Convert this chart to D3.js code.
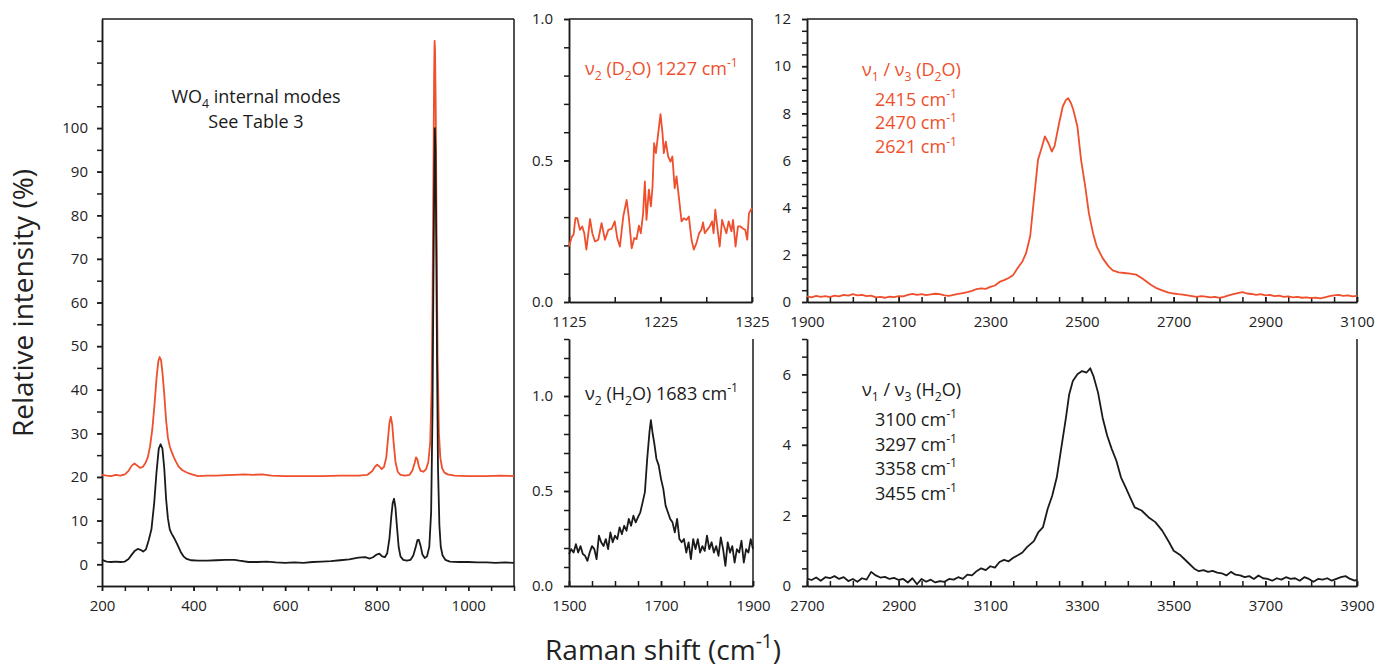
<!DOCTYPE html>
<html>
<head>
<meta charset="utf-8">
<script src="https://cdn.jsdelivr.net/npm/d3@7"></script>
<style>
  body { margin: 0; background: #fff; }
  svg { display: block; font-family: "Open Sans", sans-serif; }
</style>
</head>
<body>
<div id="chart"></div>
<script>
// ── Spectra ([Raman shift, intensity]) ─────────────────────────────────────
// Left panel: WO4 internal modes (H2O sample black, D2O sample orange, offset +20)
const wo4H2O = [
  [200,1.0],[210,0.6],[220,0.5],[230,0.6],[240,0.5],[250,0.6],[258,1.2],[265,2.2],[272,3.1],[278,3.5],
  [284,3.3],[290,2.9],[296,3.4],[302,5.5],[308,8],[314,14],[319,21],[324,26.5],[328,27.5],[332,26.5],
  [336,22],[340,15],[344,10.5],[348,8],[352,7],[356,6.3],[360,5.5],[366,4.2],[372,2.8],[378,1.8],
  [385,1.2],[395,0.9],[410,0.8],[430,0.8],[450,0.9],[470,1.0],[490,1.0],[500,0.8],[520,0.5],[540,0.5],
  [560,0.6],[580,0.4],[600,0.3],[620,0.4],[640,0.3],[660,0.5],[680,0.6],[700,0.7],[720,0.9],[740,1.1],
  [760,1.5],[775,1.6],[785,1.3],[792,1.6],[800,2.2],[806,2.4],[812,1.8],[818,1.6],[823,2.5],[828,6],
  [832,11],[835,14],[838,15],[841,13],[844,9],[848,4],[852,1.8],[858,1.0],[866,0.8],[874,1.0],
  [880,2.0],[885,3.8],[889,5.5],[892,5.6],[896,4.2],[900,2.2],[905,1.4],[910,1.8],[915,4],[919,12],
  [922,35],[924,65],[926,90],[927,100],[928.5,95],[930,75],[932,45],[934,22],[937,9],[940,4],
  [944,2],[950,1.0],[960,0.6],[980,0.5],[1000,0.5],[1020,0.4],[1040,0.4],[1060,0.3],[1080,0.4],[1100,0.3]
];
const wo4D2O = [
  [200,20.5],[210,20.3],[220,20.2],[230,20.5],[240,20.3],[250,20.6],[258,21.4],[265,22.6],[271,23.1],[277,22.6],
  [283,22.1],[289,22.3],[295,23.2],[300,24.5],[305,27],[310,31],[315,37],[319,42.5],[323,46.5],[326,47.5],
  [329,46.8],[332,44],[336,39],[340,33],[344,29],[348,27],[352,25.8],[357,24.5],[362,23.4],[368,22.3],
  [375,21.6],[382,21.2],[390,20.8],[400,20.5],[410,20.2],[430,20.3],[450,20.3],[470,20.4],[490,20.5],[510,20.6],
  [530,20.5],[550,20.6],[570,20.3],[600,20.2],[640,20.2],[680,20.2],[720,20.3],[760,20.3],[780,20.5],[790,21.3],
  [796,22.3],[801,22.8],[806,22.4],[811,21.8],[816,22.3],[821,24.5],[825,29],[828,32.5],[831,33.8],[834,32],
  [837,28],[841,23.5],[846,21.2],[852,20.5],[862,20.3],[872,20.5],[878,21.5],[883,23.2],[886,24.5],[889,24],
  [892,22.5],[896,21.4],[902,21.2],[908,21.8],[913,23.5],[917,28],[920,40],[922,60],[924,90],[925.5,112],
  [926.5,120],[927.5,118],[929,105],[931,75],[933,48],[936,30],[939,24.5],[943,22],[948,21],[955,20.6],
  [970,20.3],[1000,20.2],[1040,20.2],[1070,20.3],[1100,20.2]
];

// Middle top: nu2 bend of D2O
const bendD2O = [
  [1125,0.196],[1128,0.23],[1130,0.238],[1132,0.296],[1134,0.296],[1137,0.255],[1139.5,0.267],[1141.7,0.243],
  [1144,0.185],[1148,0.293],[1150.5,0.243],[1153.4,0.214],[1157,0.22],[1160.6,0.279],[1164.3,0.22],[1168,0.255],
  [1171.5,0.258],[1175,0.285],[1177.7,0.226],[1180.6,0.196],[1184.3,0.302],[1188,0.361],[1190.5,0.296],[1193.5,0.19],
  [1196.4,0.226],[1198.8,0.222],[1201.4,0.27],[1203.5,0.243],[1206,0.314],[1207.9,0.426],[1209.7,0.29],[1212.3,0.397],
  [1214.5,0.338],[1216.3,0.408],[1218,0.561],[1220,0.526],[1222.5,0.596],[1225,0.664],[1227.2,0.596],[1228.6,0.526],
  [1230.8,0.567],[1233.4,0.514],[1235.9,0.496],[1238,0.514],[1240.5,0.402],[1242.5,0.444],[1245.4,0.361],[1248,0.285],
  [1250.5,0.296],[1253.4,0.29],[1256,0.302],[1258.9,0.22],[1261.4,0.185],[1264.3,0.208],[1267.2,0.243],[1269.7,0.255],
  [1271.5,0.281],[1273.4,0.243],[1276,0.255],[1278.8,0.267],[1281.4,0.285],[1283,0.243],[1284.9,0.326],[1287,0.267],
  [1289.7,0.196],[1292.3,0.29],[1294.5,0.267],[1297,0.243],[1299.5,0.285],[1302.5,0.25],[1304.3,0.29],[1307,0.196],
  [1309.7,0.267],[1312.3,0.267],[1315,0.26],[1317.6,0.255],[1319.8,0.22],[1321.7,0.314],[1325,0.332]
];

// Middle bottom: nu2 bend of H2O
const bendH2O = [
  [1500,0.168],[1505,0.194],[1510,0.176],[1515,0.22],[1520,0.176],[1525,0.21],[1530,0.168],[1535,0.159],
  [1540,0.132],[1545,0.176],[1550,0.21],[1555,0.194],[1560,0.141],[1565,0.265],[1570,0.23],[1575,0.21],
  [1580,0.247],[1585,0.194],[1590,0.282],[1595,0.23],[1600,0.265],[1605,0.247],[1610,0.309],[1615,0.273],
  [1620,0.317],[1625,0.291],[1630,0.353],[1635,0.317],[1640,0.37],[1645,0.335],[1650,0.362],[1655,0.388],
  [1660,0.44],[1665,0.494],[1670,0.67],[1675,0.811],[1678,0.873],[1682,0.80],[1685,0.758],[1690,0.67],
  [1695,0.635],[1700,0.564],[1705,0.511],[1710,0.423],[1715,0.388],[1720,0.353],[1725,0.335],[1730,0.282],
  [1735,0.353],[1740,0.247],[1745,0.23],[1750,0.247],[1755,0.176],[1760,0.23],[1765,0.141],[1770,0.247],
  [1775,0.194],[1780,0.247],[1785,0.176],[1790,0.21],[1795,0.185],[1800,0.265],[1805,0.194],[1810,0.23],
  [1815,0.176],[1820,0.21],[1825,0.159],[1830,0.256],[1835,0.194],[1840,0.106],[1845,0.23],[1850,0.176],
  [1855,0.21],[1860,0.123],[1865,0.194],[1870,0.176],[1875,0.238],[1880,0.123],[1885,0.194],[1890,0.176],
  [1895,0.247],[1900,0.194]
];

// Right top: nu1/nu3 stretch of D2O
const stretchD2O = [
  [1900,0.24],[1910,0.2],[1920,0.26],[1930,0.22],[1940,0.25],[1950,0.21],[1960,0.27],[1970,0.24],[1980,0.3],[1990,0.27],
  [2000,0.33],[2010,0.28],[2020,0.3],[2030,0.25],[2040,0.27],[2050,0.2],[2060,0.22],[2070,0.18],[2080,0.23],[2090,0.21],
  [2100,0.25],[2110,0.24],[2120,0.3],[2130,0.34],[2140,0.3],[2150,0.33],[2160,0.29],[2170,0.32],[2180,0.35],[2190,0.33],
  [2200,0.28],[2210,0.26],[2220,0.3],[2230,0.34],[2240,0.38],[2250,0.42],[2260,0.47],[2270,0.55],[2280,0.58],[2290,0.56],
  [2300,0.64],[2310,0.7],[2320,0.85],[2330,0.93],[2340,1.02],[2350,1.15],[2360,1.45],[2370,1.72],[2378,2.07],[2387,2.8],
  [2395,4.33],[2404,6.03],[2413,6.6],[2419,7.02],[2427,6.73],[2434,6.38],[2440,6.6],[2450,7.58],[2458,8.29],[2465,8.57],
  [2470,8.64],[2476,8.43],[2481,8.15],[2490,7.44],[2498,6.03],[2507,4.9],[2515,3.77],[2524,2.92],[2532,2.36],[2545,1.86],
  [2558,1.51],[2567,1.34],[2580,1.26],[2592,1.23],[2605,1.2],[2618,1.16],[2630,1.02],[2640,0.88],[2650,0.73],[2661,0.6],
  [2675,0.49],[2687,0.41],[2700,0.36],[2710,0.33],[2720,0.31],[2730,0.28],[2740,0.25],[2750,0.22],[2760,0.25],[2770,0.23],
  [2780,0.2],[2790,0.22],[2800,0.17],[2810,0.22],[2820,0.28],[2830,0.33],[2840,0.38],[2850,0.42],[2860,0.36],[2870,0.34],
  [2880,0.3],[2890,0.33],[2900,0.28],[2910,0.3],[2920,0.25],[2930,0.27],[2940,0.22],[2950,0.24],[2960,0.2],[2970,0.22],
  [2980,0.18],[2990,0.2],[3000,0.16],[3010,0.19],[3020,0.15],[3030,0.2],[3040,0.25],[3050,0.28],[3060,0.3],[3070,0.26],
  [3080,0.28],[3090,0.24],[3100,0.26]
];

// Right bottom: nu1/nu3 stretch of H2O
const stretchH2O = [
  [2700,0.21],[2710,0.17],[2720,0.24],[2730,0.15],[2740,0.25],[2750,0.22],[2760,0.28],[2770,0.2],[2780,0.25],[2790,0.14],
  [2800,0.2],[2810,0.12],[2820,0.22],[2830,0.18],[2840,0.4],[2850,0.3],[2860,0.24],[2870,0.26],[2880,0.2],[2890,0.23],
  [2900,0.17],[2910,0.2],[2920,0.1],[2930,0.22],[2940,0.05],[2950,0.2],[2960,0.12],[2970,0.18],[2980,0.1],[2990,0.14],
  [3000,0.12],[3010,0.2],[3020,0.18],[3030,0.25],[3040,0.2],[3050,0.32],[3060,0.3],[3070,0.42],[3080,0.5],[3090,0.45],
  [3100,0.56],[3110,0.52],[3120,0.68],[3130,0.74],[3140,0.7],[3150,0.8],[3160,0.87],[3170,0.95],[3180,1.1],[3195,1.27],
  [3205,1.53],[3215,1.67],[3225,2.18],[3235,2.56],[3245,3.08],[3255,3.93],[3265,4.77],[3272,5.43],[3280,5.81],[3290,6.0],
  [3300,6.09],[3310,6.05],[3318,6.17],[3325,5.95],[3335,5.48],[3345,4.77],[3355,4.26],[3365,3.88],[3375,3.55],[3385,3.08],
  [3395,2.8],[3405,2.51],[3415,2.23],[3430,2.14],[3445,1.95],[3460,1.81],[3475,1.57],[3490,1.24],[3500,1.0],[3515,0.87],
  [3530,0.68],[3545,0.49],[3555,0.42],[3565,0.45],[3575,0.4],[3585,0.43],[3595,0.38],[3605,0.36],[3615,0.3],[3625,0.4],
  [3635,0.32],[3645,0.3],[3655,0.25],[3665,0.28],[3675,0.2],[3685,0.3],[3695,0.22],[3705,0.2],[3715,0.15],[3725,0.22],
  [3735,0.18],[3745,0.25],[3755,0.2],[3765,0.22],[3775,0.15],[3785,0.25],[3795,0.2],[3805,0.12],[3815,0.2],[3825,0.18],
  [3835,0.22],[3845,0.15],[3855,0.2],[3865,0.25],[3875,0.28],[3885,0.2],[3895,0.15],[3900,0.18]
];

// ── Tick values ────────────────────────────────────────────────────────────
const wo4XTicks = [200, 400, 600, 800, 1000];
const wo4YTicks = [0, 10, 20, 30, 40, 50, 60, 70, 80, 90, 100];
const bendD2OXTicks = [1125, 1225, 1325];
const bendH2OXTicks = [1500, 1700, 1900];
const bendYTicks = [0, 0.5, 1.0];
const stretchD2OXTicks = [1900, 2100, 2300, 2500, 2700, 2900, 3100];
const stretchH2OXTicks = [2700, 2900, 3100, 3300, 3500, 3700, 3900];
const stretchD2OYTicks = [0, 2, 4, 6, 8, 10, 12];
const stretchH2OYTicks = [0, 2, 4, 6];

const ORANGE = "#ef4f2c";
const INK = "#1a1a1a";
const W = 1375, H = 668;

const svg = d3.select("#chart").append("svg").attr("width", W).attr("height", H);

const steps = (a, b, s) => d3.range(Math.round((b - a) / s) + 1).map((i) => +(a + i * s).toFixed(4));

// ── One framed panel ───────────────────────────────────────────────────────
function panel(o) {
  const g = svg.append("g");
  const x = d3.scaleLinear().domain(o.xDomain).range([o.left, o.right]);
  const y = d3.scaleLinear().domain(o.yDomain).range([o.bottom, o.top]);
  const tick = 5;

  // minor ticks
  g.append("g").attr("transform", `translate(0,${o.bottom})`)
    .call(d3.axisBottom(x).tickValues(o.xMinor).tickFormat("").tickSizeOuter(0)
      .tickSizeInner(o.xInward ? -tick : tick));
  g.append("g").attr("transform", `translate(${o.left},0)`)
    .call(d3.axisLeft(y).tickValues(o.yMinor).tickFormat("").tickSizeOuter(0).tickSizeInner(tick));

  // labelled ticks
  g.append("g").attr("class", "lab").attr("transform", `translate(0,${o.bottom})`)
    .call(d3.axisBottom(x).tickValues(o.xTicks).tickFormat(d3.format("d")).tickSizeOuter(0)
      .tickSizeInner(o.xInward ? -tick : tick).tickPadding(o.xInward ? 14 : 9));
  g.append("g").attr("class", "lab").attr("transform", `translate(${o.left},0)`)
    .call(d3.axisLeft(y).tickValues(o.yTicks).tickFormat(o.yFmt).tickSizeOuter(0)
      .tickSizeInner(tick).tickPadding(o.yPad));

  g.selectAll(".domain, .tick line").attr("stroke", INK).attr("stroke-width", 1.5);
  g.selectAll(".lab text").attr("font-size", "15px").attr("fill", "#222")
    .attr("font-family", '"Open Sans", sans-serif');

  // frame: right side always, top only for upper panels
  g.append("line").attr("x1", o.right).attr("x2", o.right).attr("y1", o.top).attr("y2", o.bottom)
    .attr("stroke", INK).attr("stroke-width", 1.5);
  if (o.topLine) {
    g.append("line").attr("x1", o.left).attr("x2", o.right).attr("y1", o.top).attr("y2", o.top)
      .attr("stroke", INK).attr("stroke-width", 1.5);
  }

  const line = d3.line().x((d) => x(d[0])).y((d) => y(d[1]));
  o.series.forEach((s) => {
    g.append("path").datum(s.data).attr("d", line)
      .attr("fill", "none").attr("stroke", s.color).attr("stroke-width", 1.8)
      .attr("stroke-linejoin", "round");
  });
  return g;
}

// ── Text with sub/superscripts ─────────────────────────────────────────────
function rich(x, y, parts, size, color, anchor) {
  const t = svg.append("text").attr("x", x).attr("y", y)
    .attr("font-size", size + "px").attr("fill", color).attr("text-anchor", anchor || "start");
  let shift = 0;
  parts.forEach(([s, k]) => {
    const target = k === "sub" ? size * 0.3 : k === "sup" ? -size * 0.42 : 0;
    t.append("tspan").attr("dy", target - shift)
      .attr("font-size", (k ? size * 0.68 : size) + "px").text(s);
    shift = target;
  });
  return t;
}

const fmt1 = d3.format(".1f");

panel({
  left: 102, right: 514, top: 19, bottom: 586,
  xDomain: [200, 1100], yDomain: [-5, 125],
  xTicks: wo4XTicks, xMinor: steps(200, 1100, 50), xInward: false,
  yTicks: wo4YTicks, yMinor: steps(-5, 120, 5), yFmt: d3.format("d"), yPad: 9,
  topLine: true,
  series: [{ data: wo4D2O, color: ORANGE }, { data: wo4H2O, color: INK }]
});

panel({
  left: 569, right: 752, top: 19, bottom: 302,
  xDomain: [1125, 1325], yDomain: [0, 1.0],
  xTicks: bendD2OXTicks, xMinor: steps(1125, 1325, 50), xInward: true,
  yTicks: bendYTicks, yMinor: steps(0, 1.0, 0.1), yFmt: fmt1, yPad: 11,
  topLine: true,
  series: [{ data: bendD2O, color: ORANGE }]
});

panel({
  left: 569, right: 753, top: 339, bottom: 586,
  xDomain: [1500, 1900], yDomain: [0, 1.3],
  xTicks: bendH2OXTicks, xMinor: steps(1500, 1900, 50), xInward: true,
  yTicks: bendYTicks, yMinor: steps(0, 1.3, 0.1), yFmt: fmt1, yPad: 11,
  topLine: false,
  series: [{ data: bendH2O, color: INK }]
});

panel({
  left: 807, right: 1357, top: 19, bottom: 302,
  xDomain: [1900, 3100], yDomain: [0, 12],
  xTicks: stretchD2OXTicks, xMinor: steps(1900, 3100, 50), xInward: true,
  yTicks: stretchD2OYTicks, yMinor: steps(0, 12, 0.5), yFmt: d3.format("d"), yPad: 11,
  topLine: true,
  series: [{ data: stretchD2O, color: ORANGE }]
});

panel({
  left: 807, right: 1357, top: 339, bottom: 586,
  xDomain: [2700, 3900], yDomain: [0, 7],
  xTicks: stretchH2OXTicks, xMinor: steps(2700, 3900, 50), xInward: true,
  yTicks: stretchH2OYTicks, yMinor: steps(0, 7, 0.5), yFmt: d3.format("d"), yPad: 11,
  topLine: false,
  series: [{ data: stretchH2O, color: INK }]
});

// ── Annotations ────────────────────────────────────────────────────────────
rich(256, 103, [["WO", ""], ["4", "sub"], [" internal modes", ""]], 18, INK, "middle");
rich(256, 128, [["See Table 3", ""]], 18, INK, "middle");

rich(585, 75, [["ν", ""], ["2", "sub"], [" (D", ""], ["2", "sub"], ["O) 1227 cm", ""], ["-1", "sup"]], 18, ORANGE);
rich(585, 400, [["ν", ""], ["2", "sub"], [" (H", ""], ["2", "sub"], ["O) 1683 cm", ""], ["-1", "sup"]], 18, INK);

rich(862, 76, [["ν", ""], ["1", "sub"], [" / ν", ""], ["3", "sub"], [" (D", ""], ["2", "sub"], ["O)", ""]], 18, ORANGE);
["2415", "2470", "2621"].forEach((v, i) =>
  rich(875, 105.5 + i * 23.8, [[v + " cm", ""], ["-1", "sup"]], 18, ORANGE));

rich(862, 396, [["ν", ""], ["1", "sub"], [" / ν", ""], ["3", "sub"], [" (H", ""], ["2", "sub"], ["O)", ""]], 18, INK);
["3100", "3297", "3358", "3455"].forEach((v, i) =>
  rich(875, 426 + i * 24.5, [[v + " cm", ""], ["-1", "sup"]], 18, INK));

// ── Axis titles ────────────────────────────────────────────────────────────
rich(0, 0, [["Relative intensity (%)", ""]], 28, "#222", "middle")
  .attr("transform", "translate(33,303) rotate(-90)");
rich(663, 660, [["Raman shift (cm", ""], ["-1", "sup"], [")", ""]], 28, "#222", "middle");
</script>
</body>
</html>
